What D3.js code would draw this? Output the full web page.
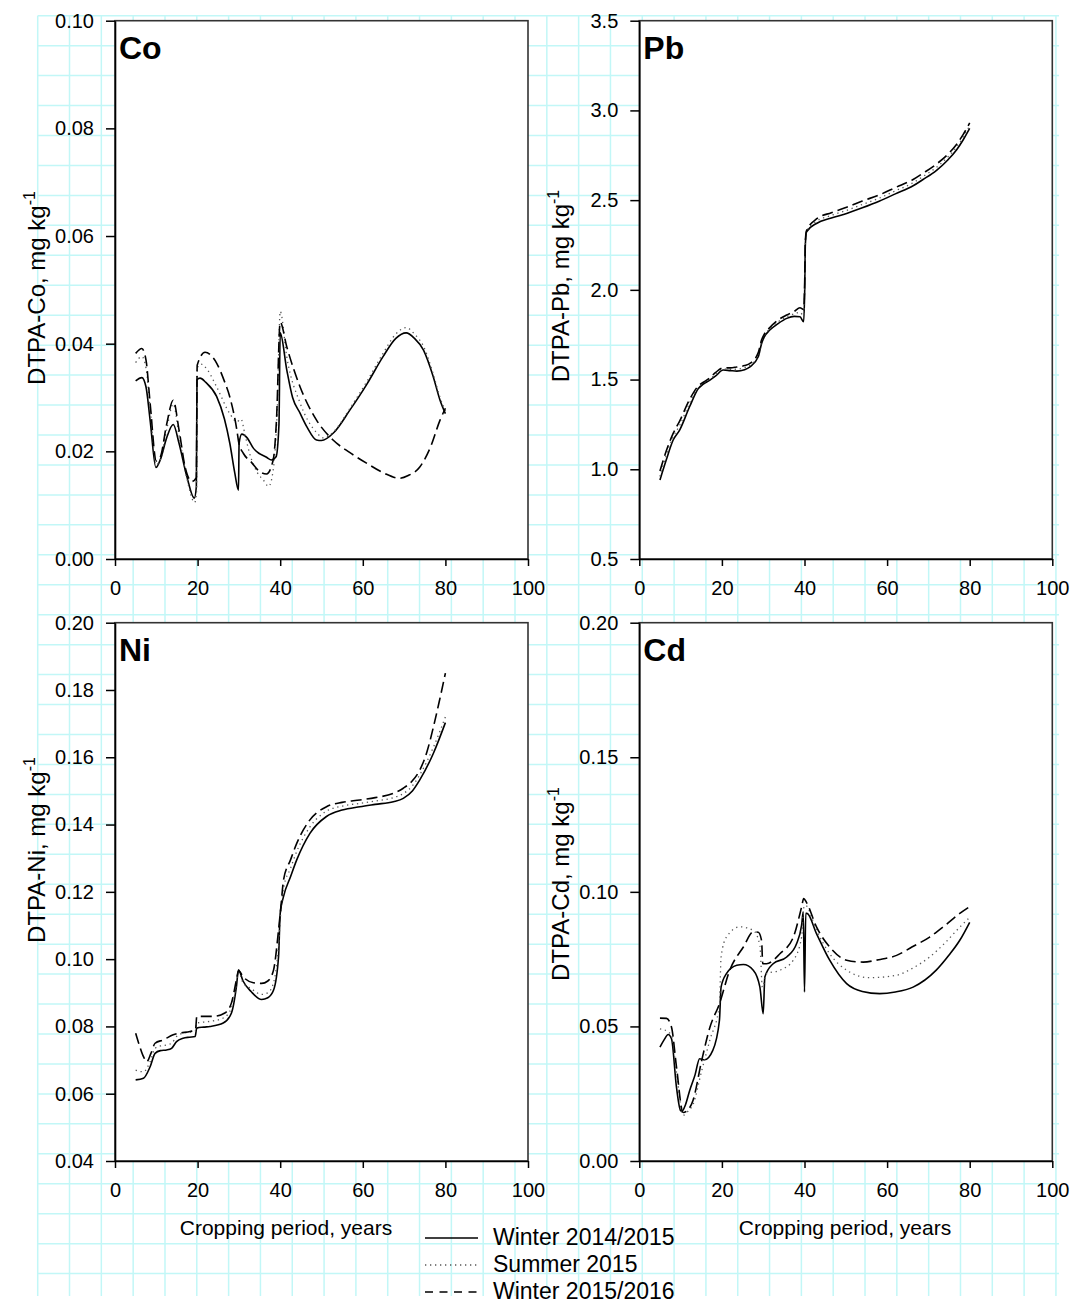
<!DOCTYPE html>
<html>
<head>
<meta charset="utf-8">
<script src="https://cdn.jsdelivr.net/npm/d3@7"></script>
<style>
  body { margin: 0; background: #fff; }
  svg { display: block; font-family: Arial, "Liberation Sans", sans-serif; }
</style>
</head>
<body>
<div id="viz"></div>
<script>
// series labels
var seriesNames = ["Winter 2014/2015", "Summer 2015", "Winter 2015/2016"];
var xTicks = [0, 20, 40, 60, 80, 100];

// [cropping period (years), DTPA value (mg/kg)]
var coW1415 = [[5,0.0331],[6.5,0.0337],[7.5,0.032],[8.5,0.0258],[9.9,0.017],[11,0.0185],[12.5,0.0225],[14.1,0.025],[15.5,0.0215],[17.4,0.0153],[19.2,0.0113],[19.7,0.0135],[19.85,0.0333],[20.6,0.0336],[22,0.0328],[24.6,0.0302],[26.5,0.026],[27.8,0.0215],[29,0.016],[29.9,0.0128],[30.05,0.0215],[30.7,0.0232],[32,0.0225],[33.5,0.0206],[36.7,0.0189],[37.9,0.0184],[39,0.019],[39.7,0.025],[40,0.042],[41.6,0.0351],[43,0.03],[44.8,0.0271],[46.5,0.0245],[48.8,0.0221],[50,0.022],[53,0.0235],[56.9,0.0277],[61,0.0325],[64.9,0.0376],[68,0.041],[70.5,0.042],[72.5,0.041],[74.7,0.0388],[77,0.034],[78.7,0.0295],[80,0.027]];
var coS15 = [[5,0.0365],[6.5,0.0376],[7.5,0.0355],[8.5,0.028],[10,0.0175],[11,0.0185],[12.5,0.024],[14.1,0.0288],[15.5,0.023],[17.4,0.015],[19.3,0.0105],[19.75,0.0125],[19.9,0.0355],[20.8,0.0362],[22.5,0.035],[24.6,0.032],[27.8,0.027],[29.5,0.0255],[30.5,0.026],[31.5,0.023],[32.6,0.0196],[34.5,0.016],[35.9,0.0147],[37.2,0.0135],[38.3,0.0165],[39.3,0.028],[40,0.046],[41.6,0.0375],[44.8,0.029],[48.8,0.0235],[50.5,0.0225],[53,0.0237],[56.9,0.028],[61,0.033],[64.9,0.0382],[68,0.0418],[70.5,0.043],[72.5,0.0418],[74.7,0.0395],[77,0.0345],[78.7,0.03],[80,0.0275]];
var coW1516 = [[5,0.0382],[6.5,0.0391],[7.5,0.037],[8.5,0.029],[10,0.0182],[11,0.019],[12.5,0.025],[14.1,0.0295],[15.5,0.024],[17,0.017],[18.6,0.0144],[19.7,0.0151],[19.9,0.036],[21.8,0.0384],[24.6,0.0364],[26.5,0.033],[27.8,0.0301],[29.5,0.024],[30,0.0215],[31.1,0.0196],[33,0.018],[35.1,0.0162],[36.7,0.0158],[38.3,0.0184],[39.1,0.0258],[40,0.044],[41.6,0.0394],[44.8,0.032],[48.8,0.0258],[52.8,0.0221],[56.8,0.0198],[60.9,0.0178],[65,0.016],[68.9,0.015],[71,0.0155],[73.8,0.0171],[76.5,0.021],[78.7,0.0258],[80,0.028]];

var pbW1415 = [[5,0.94],[6.5,1.05],[8.2,1.163],[9.8,1.22],[12.2,1.35],[14.3,1.45],[15.5,1.475],[17.1,1.497],[18.5,1.52],[20.3,1.553],[22,1.55],[23.6,1.547],[25.5,1.555],[26.8,1.571],[28.8,1.627],[29.6,1.7],[30.2,1.735],[31.6,1.776],[33.5,1.81],[35.7,1.841],[37.5,1.852],[38.9,1.85],[39.8,1.822],[40.05,2.0],[40.2,2.25],[40.5,2.324],[42.9,2.37],[46.5,2.4],[50.2,2.426],[54,2.457],[58.2,2.495],[62,2.535],[66.3,2.58],[68.7,2.615],[71.9,2.665],[74.7,2.724],[76.8,2.779],[78.4,2.835],[80,2.9]];
var pbS15 = [[5,0.96],[6.5,1.075],[8.2,1.18],[9.8,1.245],[12.2,1.37],[14.3,1.458],[15.5,1.48],[17.1,1.503],[18.5,1.53],[20.3,1.558],[22,1.557],[23.6,1.558],[25.5,1.566],[26.8,1.58],[28.8,1.638],[29.6,1.71],[30.2,1.742],[31.6,1.783],[33.5,1.82],[35.7,1.85],[37.5,1.866],[38.9,1.875],[39.8,1.855],[40.05,2.02],[40.2,2.26],[40.5,2.327],[42.9,2.382],[46.5,2.415],[50.2,2.443],[54,2.476],[58.2,2.512],[62,2.552],[66.3,2.597],[68.7,2.632],[71.9,2.682],[74.7,2.74],[76.8,2.795],[78.4,2.85],[80,2.915]];
var pbW1516 = [[5,0.99],[6.5,1.1],[8.2,1.2],[9.8,1.27],[12.2,1.39],[14.3,1.465],[15.5,1.485],[17.1,1.51],[18.5,1.54],[20.3,1.565],[22,1.565],[23.6,1.57],[25.5,1.578],[26.8,1.59],[28.8,1.65],[29.6,1.72],[30.2,1.75],[31.6,1.79],[33.5,1.83],[35.7,1.86],[37.5,1.88],[38.9,1.9],[39.8,1.89],[40.05,2.05],[40.2,2.27],[40.5,2.33],[42.9,2.395],[46.5,2.43],[50.2,2.46],[54,2.495],[58.2,2.53],[62,2.57],[66.3,2.615],[68.7,2.65],[71.9,2.7],[74.7,2.755],[76.8,2.81],[78.4,2.865],[80,2.93]];

var niW1415 = [[5,0.0641],[6.9,0.0646],[8.5,0.068],[9.7,0.072],[11,0.0728],[12.5,0.073],[13.7,0.0735],[14.9,0.0755],[16.5,0.0765],[18,0.0768],[19.4,0.077],[19.8,0.0795],[21.5,0.0798],[23,0.08],[26.2,0.081],[28.2,0.084],[29.4,0.0918],[29.9,0.0968],[31,0.0935],[33,0.0903],[35.5,0.088],[37,0.0885],[38.4,0.0908],[39.6,0.1007],[40,0.1136],[40.8,0.1186],[42.5,0.1245],[44,0.1295],[47.2,0.1374],[51.2,0.1424],[55,0.1443],[59.3,0.1453],[63,0.146],[67.4,0.1468],[69.8,0.1478],[72,0.15],[73.8,0.1533],[77.1,0.1612],[80,0.1703]];
var niS15 = [[5,0.067],[6.9,0.0665],[8.5,0.0695],[9.7,0.0735],[11,0.0742],[12.5,0.0745],[13.7,0.075],[14.9,0.077],[16.5,0.078],[18,0.0783],[19.4,0.0785],[19.8,0.081],[21.5,0.0813],[23,0.0815],[26.2,0.0825],[28.2,0.0855],[29.4,0.0925],[29.9,0.0962],[31,0.093],[33,0.0912],[35.5,0.0895],[37,0.09],[38.4,0.093],[39.6,0.104],[40.2,0.115],[40.8,0.121],[42.5,0.127],[44,0.132],[47.2,0.1393],[51.2,0.144],[55,0.1455],[59.3,0.1463],[63,0.147],[67.4,0.148],[69.8,0.1492],[72,0.1515],[73.8,0.1548],[77.1,0.163],[80,0.172]];
var niW1516 = [[5,0.078],[6,0.074],[6.9,0.071],[7.7,0.0695],[8.7,0.072],[9.7,0.075],[11.7,0.076],[14.1,0.0775],[15.5,0.078],[18.2,0.0785],[19.5,0.079],[19.8,0.083],[21.5,0.083],[23.8,0.083],[26.6,0.084],[28.2,0.087],[29.4,0.0938],[29.9,0.0965],[31.2,0.0945],[33.5,0.093],[35.5,0.0928],[37,0.0935],[38.4,0.0968],[39.6,0.1087],[40.2,0.116],[40.8,0.1235],[42.5,0.1295],[44,0.1344],[47.2,0.1414],[51.2,0.1453],[55,0.1466],[59.3,0.1473],[63,0.148],[67.4,0.1493],[69.8,0.1508],[72,0.153],[73.8,0.1562],[75.5,0.1615],[77.1,0.169],[78.5,0.1765],[80,0.185]];

var cdW1415 = [[5,0.0423],[6,0.045],[7,0.047],[7.8,0.0454],[9,0.0274],[10,0.0187],[10.3,0.0185],[11.2,0.021],[12.2,0.0262],[13.5,0.032],[14.6,0.038],[15.8,0.0376],[17.8,0.0411],[19.4,0.0522],[19.8,0.0646],[21.1,0.0696],[23.6,0.0727],[25.2,0.073],[27.6,0.0709],[29.2,0.0646],[30,0.0547],[30.4,0.0684],[32.4,0.0733],[35.7,0.0758],[38.1,0.0808],[39.3,0.0876],[39.7,0.0926],[40,0.0628],[40.3,0.092],[40.6,0.092],[42.9,0.0845],[46.1,0.0746],[50.2,0.0659],[54,0.063],[58.2,0.0622],[62,0.0628],[66.3,0.0646],[71.9,0.0709],[75,0.0765],[77.6,0.082],[80,0.0887]];
var cdS15 = [[5,0.0491],[7,0.048],[7.8,0.0465],[9,0.033],[10.6,0.017],[11.8,0.0185],[13,0.021],[15.1,0.0335],[17.1,0.045],[19.4,0.058],[19.8,0.0758],[21.1,0.0832],[24.4,0.087],[27.6,0.0857],[29.2,0.08],[29.8,0.0646],[30.8,0.0696],[34.1,0.0709],[37.3,0.0746],[39.3,0.0832],[39.8,0.094],[40.2,0.095],[42.9,0.0857],[46.1,0.077],[50.2,0.0709],[55.7,0.0681],[62.3,0.069],[66,0.0715],[70.3,0.0758],[74,0.081],[77.6,0.0869],[80,0.0905]];
var cdW1516 = [[5,0.0531],[6.6,0.053],[7.8,0.0497],[9,0.035],[10.6,0.018],[11.8,0.019],[13,0.0225],[15.1,0.0373],[17.1,0.0497],[19.4,0.0584],[21.9,0.0709],[25.2,0.0795],[27.6,0.0851],[28.8,0.085],[29.6,0.082],[29.9,0.0733],[30.8,0.0733],[34.1,0.0771],[37.3,0.0832],[39.3,0.0944],[39.8,0.0975],[40.5,0.096],[42.9,0.087],[46.1,0.0795],[50.2,0.0746],[54.2,0.0739],[58,0.0748],[62.3,0.0764],[66,0.0795],[70.3,0.0832],[74,0.0875],[77.6,0.092],[80,0.0945]];

var coTicks = [0, 0.02, 0.04, 0.06, 0.08, 0.10];
var pbTicks = [0.5, 1.0, 1.5, 2.0, 2.5, 3.0, 3.5];
var niTicks = [0.04, 0.06, 0.08, 0.10, 0.12, 0.14, 0.16, 0.18, 0.20];
var cdTicks = [0, 0.05, 0.10, 0.15, 0.20];

var w = 1075, h = 1306;
var svg = d3.select("#viz").append("svg").attr("width", w).attr("height", h);

// page grid in the background
var gridG = svg.append("g").attr("stroke", "#c2f7f7").attr("stroke-width", 1.5);
for (var i = 0; i <= 32; i++) {
  var gx = 37.7 + i * 31.82;
  gridG.append("line").attr("x1", gx).attr("x2", gx).attr("y1", 15.7).attr("y2", 1296);
}
for (var j = 0; j <= 42; j++) {
  var gy = 15.7 + j * 29.95;
  gridG.append("line").attr("x1", 37.7).attr("x2", 1059).attr("y1", gy).attr("y2", gy);
}

var styles = [
  { dash: null, width: 1.6, color: "#000" },
  { dash: "1.3,3.7", width: 1.3, color: "#555" },
  { dash: "11,5", width: 1.6, color: "#000" }
];

var panels = [
  { name: "Co", left: 115, top: 20.7, bottom: 559, dom: [0, 0.1], ticks: coTicks, fmt: ".2f", series: [coW1415, coS15, coW1516], labelY: 288, xTitle: null },
  { name: "Pb", left: 639.3, top: 20.7, bottom: 559, dom: [0.5, 3.5], ticks: pbTicks, fmt: ".1f", series: [pbW1415, pbS15, pbW1516], labelY: 286, xTitle: null },
  { name: "Ni", left: 115, top: 622.7, bottom: 1161, dom: [0.04, 0.2], ticks: niTicks, fmt: ".2f", series: [niW1415, niS15, niW1516], labelY: 850, xTitle: 286 },
  { name: "Cd", left: 639.3, top: 622.7, bottom: 1161, dom: [0, 0.2], ticks: cdTicks, fmt: ".2f", series: [cdW1415, cdS15, cdW1516], labelY: 884, xTitle: 845 }
];
var figw = 413;

panels.forEach(function(p) {
  var x = d3.scaleLinear().domain([0, 100]).range([p.left, p.left + figw]);
  var y = d3.scaleLinear().domain(p.dom).range([p.bottom, p.top]);

  svg.append("rect")
    .attr("x", p.left).attr("y", p.top)
    .attr("width", figw).attr("height", p.bottom - p.top)
    .attr("fill", "#fff").attr("stroke", "#333").attr("stroke-width", 1.6);

  var line = d3.line()
    .curve(d3.curveMonotoneX)
    .x(function(d) { return x(d[0]); })
    .y(function(d) { return y(d[1]); });

  p.series.forEach(function(s, k) {
    svg.append("path")
      .datum(s)
      .attr("d", line)
      .attr("fill", "none")
      .attr("stroke", styles[k].color)
      .attr("stroke-width", styles[k].width)
      .attr("stroke-dasharray", styles[k].dash);
  });

  var yAxis = d3.axisLeft(y).tickValues(p.ticks).tickFormat(d3.format(p.fmt))
    .tickSize(9).tickSizeOuter(0).tickPadding(12);
  var ga = svg.append("g").attr("transform", "translate(" + p.left + ",0)").call(yAxis);

  var xAxis = d3.axisBottom(x).tickValues(xTicks).tickFormat(d3.format("d"))
    .tickSize(7).tickSizeOuter(0).tickPadding(15);
  var gb = svg.append("g").attr("transform", "translate(0," + p.bottom + ")").call(xAxis);

  [ga, gb].forEach(function(g) {
    g.selectAll("text").attr("font-size", 20).attr("font-family", "Arial, 'Liberation Sans', sans-serif").attr("fill", "#000");
    g.selectAll("line").attr("stroke", "#000").attr("stroke-width", 1.5);
    g.select(".domain").attr("stroke", "#000").attr("stroke-width", 1.6);
  });

  svg.append("text")
    .attr("x", p.left + 4).attr("y", p.top + 38)
    .attr("font-size", 32).attr("font-weight", "bold")
    .text(p.name);

  var lx = p.left - 70;
  var lab = svg.append("text")
    .attr("transform", "translate(" + lx + "," + p.labelY + ")rotate(-90)")
    .attr("text-anchor", "middle")
    .attr("font-size", 24);
  lab.append("tspan").text("DTPA-" + p.name + ", mg kg");
  lab.append("tspan").attr("dy", -10).attr("font-size", 16).text("-1");

  if (p.xTitle !== null) {
    svg.append("text")
      .attr("x", p.xTitle).attr("y", 1235)
      .attr("text-anchor", "middle")
      .attr("font-size", 21)
      .text("Cropping period, years");
  }
});

// legend
var legY = [1238, 1265, 1292];
seriesNames.forEach(function(n, k) {
  svg.append("line")
    .attr("x1", 425).attr("x2", 478)
    .attr("y1", legY[k]).attr("y2", legY[k])
    .attr("stroke", styles[k].color)
    .attr("stroke-width", styles[k].width)
    .attr("stroke-dasharray", k == 2 ? "8,6.5" : styles[k].dash);
  svg.append("text")
    .attr("x", 493).attr("y", legY[k] + 7)
    .attr("font-size", 23)
    .text(n);
});
</script>
</body>
</html>
